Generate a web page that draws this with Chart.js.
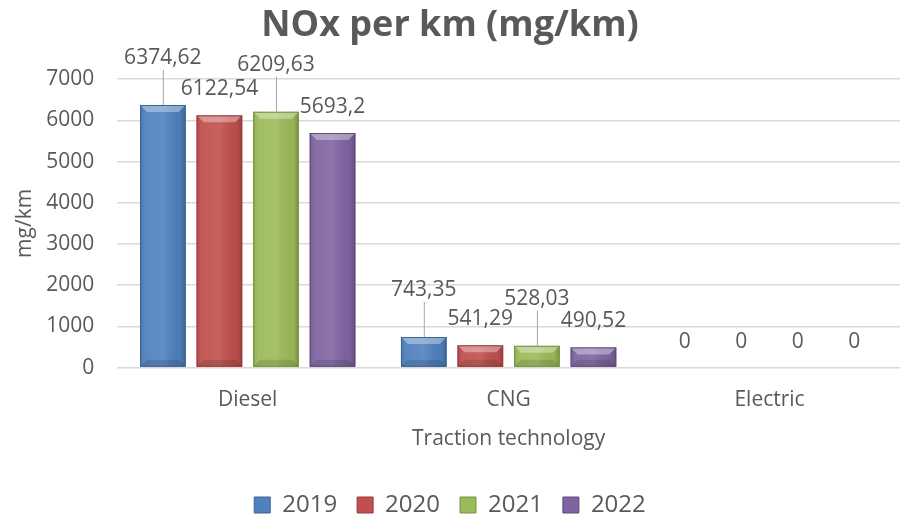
<!DOCTYPE html>
<html>
<head>
<meta charset="utf-8">
<script src="https://cdn.jsdelivr.net/npm/chart.js@4"></script>
<style>
  html, body { margin: 0; padding: 0; background: #ffffff; }
  #wrap { width: 900px; height: 524px; }
</style>
</head>
<body>
<div id="wrap"><canvas id="c" width="900" height="524"></canvas></div>
<script>
const categories = ['Diesel', 'CNG', 'Electric'];
const years = ['2019', '2020', '2021', '2022'];
const values2019 = [6374.62, 743.35, 0];
const values2020 = [6122.54, 541.29, 0];
const values2021 = [6209.63, 528.03, 0];
const values2022 = [5693.2, 490.52, 0];
const yTicks = [0, 1000, 2000, 3000, 4000, 5000, 6000, 7000];

const FONT = "'Open Sans', 'Liberation Sans', sans-serif";
const TXT = '#595959';
const baseColors = ['#4F81BD', '#C0504D', '#9BBB59', '#8064A2'];
const borderColors = ['#3B6391', '#943C3A', '#76923F', '#5F4A7A'];
const series = [values2019, values2020, values2021, values2022];

function fmt(v) { return String(v).replace('.', ','); }

const bevelPlugin = {
  id: 'bevel',
  afterDatasetsDraw(chart) {
    const ctx = chart.ctx;
    chart.data.datasets.forEach((ds, i) => {
      const meta = chart.getDatasetMeta(i);
      meta.data.forEach((bar) => {
        const w = bar.width, x0 = bar.x - w / 2, x1 = bar.x + w / 2;
        const top = bar.y, bot = bar.base;
        const h = bot - top;
        if (h < 1) return;
        ctx.save();
        const g = ctx.createLinearGradient(x0, 0, x1, 0);
        g.addColorStop(0, 'rgba(0,0,0,0.10)');
        g.addColorStop(0.12, 'rgba(255,255,255,0.06)');
        g.addColorStop(0.5, 'rgba(255,255,255,0.10)');
        g.addColorStop(0.88, 'rgba(0,0,0,0.04)');
        g.addColorStop(1, 'rgba(0,0,0,0.22)');
        ctx.fillStyle = g;
        ctx.fillRect(x0, top, w, h);
        const b = Math.min(7, h / 2);
        ctx.beginPath();
        ctx.moveTo(x0, top); ctx.lineTo(x1, top);
        ctx.lineTo(x1 - b, top + b); ctx.lineTo(x0 + b, top + b);
        ctx.closePath();
        ctx.fillStyle = 'rgba(255,255,255,0.35)';
        ctx.fill();
        ctx.beginPath();
        ctx.moveTo(x0, bot); ctx.lineTo(x1, bot);
        ctx.lineTo(x1 - b, bot - b); ctx.lineTo(x0 + b, bot - b);
        ctx.closePath();
        ctx.fillStyle = 'rgba(0,0,0,0.12)';
        ctx.fill();
        ctx.strokeStyle = borderColors[i];
        ctx.lineWidth = 1;
        ctx.strokeRect(x0 + 0.5, top + 0.5, w - 1, h - 1);
        ctx.restore();
      });
    });
  }
};

const labelPlugin = {
  id: 'valueLabels',
  afterDatasetsDraw(chart) {
    const ctx = chart.ctx;
    ctx.save();
    ctx.font = '21px ' + FONT;
    ctx.fillStyle = TXT;
    ctx.textAlign = 'center';
    ctx.textBaseline = 'middle';
    chart.data.datasets.forEach((ds, i) => {
      const meta = chart.getDatasetMeta(i);
      meta.data.forEach((bar, j) => {
        const v = ds.data[j];
        const raised = (i % 2 === 0) && v > 0;
        const cy = bar.y - (raised ? 47 : 26);
        if (raised) {
          ctx.beginPath();
          ctx.strokeStyle = '#A6A6A6';
          ctx.lineWidth = 1;
          ctx.moveTo(bar.x + 0.5, bar.y);
          ctx.lineTo(bar.x + 0.5, cy + 12);
          ctx.stroke();
        }
        ctx.fillText(fmt(v), bar.x, cy);
      });
    });
    ctx.restore();
  }
};

new Chart(document.getElementById('c'), {
  type: 'bar',
  data: {
    labels: categories,
    datasets: years.map((y, i) => ({
      label: y,
      data: series[i],
      backgroundColor: baseColors[i],
      borderColor: borderColors[i],
      borderWidth: 0,
      categoryPercentage: 0.867,
      barPercentage: 0.807
    }))
  },
  options: {
    responsive: false,
    animation: false,
    devicePixelRatio: 1,
    layout: { padding: { left: 0, right: 0, top: 0, bottom: -3 } },
    plugins: {
      title: {
        display: true,
        text: 'NOx per km (mg/km)',
        color: TXT,
        font: { family: FONT, size: 36, weight: 'bold' },
        padding: { top: 4, bottom: 32 }
      },
      legend: {
        position: 'bottom',
        labels: {
          color: TXT,
          font: { family: FONT, size: 24 },
          boxWidth: 16,
          boxHeight: 16,
          padding: 20,
          generateLabels(chart) {
            return chart.data.datasets.map((ds, i) => ({
              text: ds.label,
              fillStyle: baseColors[i],
              strokeStyle: borderColors[i],
              lineWidth: 1,
              fontColor: TXT,
              datasetIndex: i
            }));
          }
        }
      },
      tooltip: { enabled: false }
    },
    scales: {
      x: {
        grid: { display: false },
        border: { display: false },
        ticks: { color: TXT, font: { family: FONT, size: 21 }, padding: 12 },
        title: {
          display: true, text: 'Traction technology', color: TXT,
          font: { family: FONT, size: 21 }, padding: { top: 2, bottom: 21 }
        }
      },
      y: {
        min: 0, max: 7000,
        afterBuildTicks(scale) { scale.ticks = yTicks.map(v => ({ value: v })); },
        grid: { color: '#D9D9D9', lineWidth: 1.5, drawTicks: false },
        border: { display: false },
        ticks: {
          color: TXT, font: { family: FONT, size: 21 }, padding: 23,
          callback: (v) => String(v)
        },
        title: {
          display: true, text: 'mg/km', color: TXT,
          font: { family: FONT, size: 21 }, padding: { top: 12, bottom: -14 }
        }
      }
    }
  },
  plugins: [bevelPlugin, labelPlugin]
});
</script>
</body>
</html>
